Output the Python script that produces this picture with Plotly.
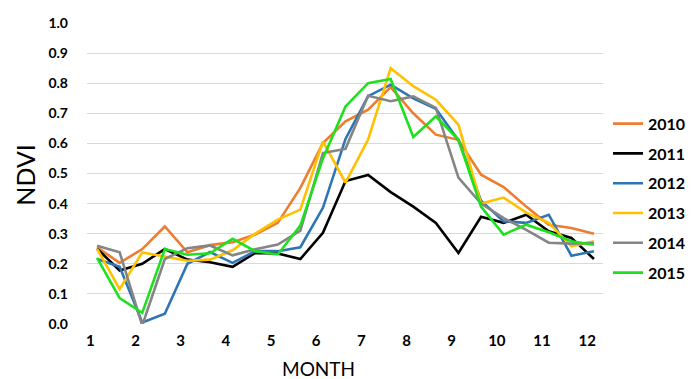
import plotly.graph_objects as go

# Month position of each 16-day composite
month_pos = [1.15, 1.65, 2.15, 2.65, 3.15, 3.65, 4.15, 4.65, 5.15, 5.65, 6.15, 6.65,
             7.15, 7.65, 8.15, 8.65, 9.15, 9.65, 10.15, 10.65, 11.15, 11.65, 12.15]

years = ["2010", "2011", "2012", "2013", "2014", "2015"]

ndvi_2010 = [0.255, 0.203, 0.249, 0.324, 0.238, 0.262, 0.272, 0.297, 0.336, 0.452, 0.601, 0.673,
             0.712, 0.787, 0.700, 0.629, 0.612, 0.496, 0.455, 0.390, 0.330, 0.319, 0.300]
ndvi_2011 = [0.250, 0.178, 0.200, 0.249, 0.214, 0.205, 0.190, 0.236, 0.234, 0.216, 0.303, 0.475,
             0.495, 0.438, 0.390, 0.336, 0.236, 0.356, 0.336, 0.363, 0.308, 0.286, 0.216]
ndvi_2012 = [0.216, 0.190, 0.005, 0.034, 0.200, 0.239, 0.203, 0.242, 0.242, 0.255, 0.386, 0.615,
             0.757, 0.795, 0.750, 0.715, 0.610, 0.410, 0.341, 0.336, 0.363, 0.227, 0.242]
ndvi_2013 = [0.250, 0.116, 0.238, 0.225, 0.210, 0.214, 0.245, 0.300, 0.347, 0.380, 0.607, 0.470,
             0.613, 0.850, 0.790, 0.745, 0.662, 0.400, 0.420, 0.370, 0.336, 0.258, 0.275]
ndvi_2014 = [0.260, 0.238, -0.005, 0.216, 0.252, 0.261, 0.228, 0.248, 0.264, 0.310, 0.568, 0.582,
             0.758, 0.740, 0.756, 0.718, 0.486, 0.400, 0.352, 0.313, 0.270, 0.267, 0.269]
ndvi_2015 = [0.220, 0.086, 0.037, 0.249, 0.230, 0.235, 0.283, 0.242, 0.231, 0.327, 0.550, 0.723,
             0.800, 0.814, 0.621, 0.690, 0.612, 0.390, 0.297, 0.330, 0.305, 0.275, 0.263]

series = [ndvi_2010, ndvi_2011, ndvi_2012, ndvi_2013, ndvi_2014, ndvi_2015]
colors = ["#ED7D31", "#000000", "#2E75B6", "#FFC000", "#858585", "#1EE01E"]

x_ticks = list(range(1, 13))
y_ticks = [0.0, 0.1, 0.2, 0.3, 0.4, 0.5, 0.6, 0.7, 0.8, 0.9, 1.0]

fig = go.Figure()
for name, vals, col in zip(years, series, colors):
    fig.add_trace(go.Scatter(x=month_pos, y=vals, mode="lines", name=name,
                             legendgroup=name,
                             line=dict(color=col, width=2.6)))

font_family = "Lato, 'Liberation Sans', sans-serif"

# page has an 8px body margin; work in page pixels
OFF = 8
FW, FH = 696 - OFF, 379 - OFF
left_px, right_px, top_px, bottom_px = 87, 603, 23.3, 324.3
PL = left_px - OFF
PT = top_px - OFF
PR = FW - (right_px - OFF)
PB = FH - (bottom_px - OFF)
PW = right_px - left_px
PH = bottom_px - top_px


def px_x(px):
    return (px - left_px) / PW


def px_y(py):
    return (bottom_px - py) / PH


fig.update_layout(
    width=FW, height=FH,
    margin=dict(l=PL, r=PR, t=PT, b=PB, pad=0, autoexpand=False),
    plot_bgcolor="white", paper_bgcolor="white",
    font=dict(family=font_family, color="#000000"),
    showlegend=True,
    legend=dict(x=px_x(608), y=px_y(107), xanchor="left", yanchor="top",
                font=dict(size=16, family=font_family, color="#000000", weight="bold"),
                tracegroupgap=6, bgcolor="rgba(0,0,0,0)"),
    xaxis=dict(range=[0.927, 12.35], tickvals=x_ticks, ticktext=[str(t) for t in x_ticks],
               showgrid=False, zeroline=False, showline=False, ticks="",
               tickfont=dict(size=15, weight="bold", family=font_family),
               ticklabelstandoff=6),
    yaxis=dict(range=[0, 1.0], tickvals=y_ticks, ticktext=[f"{v:.1f}" for v in y_ticks],
               showgrid=True, gridcolor="#D9D9D9", gridwidth=1, zeroline=False,
               showline=False, ticks="",
               tickfont=dict(size=14, weight="bold", family=font_family),
               ticklabelstandoff=18),
    annotations=[
        dict(text="MONTH", xref="paper", yref="paper", x=px_x(318), y=px_y(369),
             xanchor="center", yanchor="middle", showarrow=False,
             font=dict(size=19, family=font_family, color="#000000")),
        dict(text="NDVI", xref="paper", yref="paper", x=px_x(25), y=px_y(175),
             xanchor="center", yanchor="middle", showarrow=False, textangle=-90,
             font=dict(size=25, family=font_family, color="#000000")),
    ],
)

fig.write_html("out.html")
